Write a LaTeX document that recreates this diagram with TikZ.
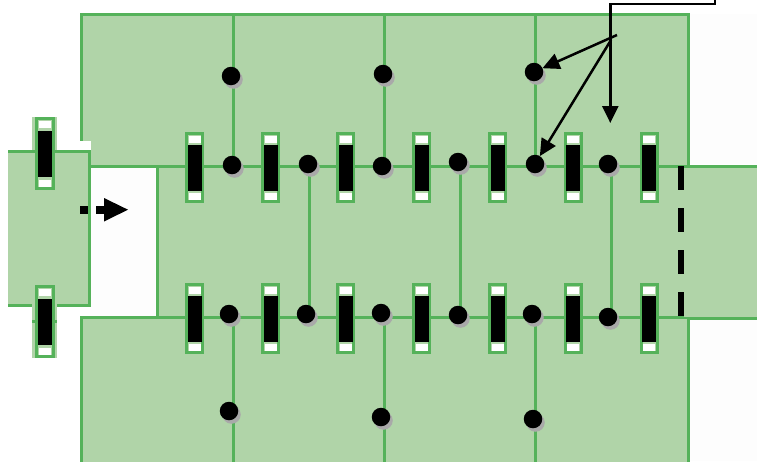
\documentclass[tikz,border=0pt]{standalone}
\usetikzlibrary{arrows.meta}
\definecolor{cellfill}{HTML}{B0D4A8}
\definecolor{cellline}{HTML}{55B25A}
\definecolor{shade}{HTML}{A9A9A9}
\definecolor{offwhite}{HTML}{FDFDFD}
\tikzset{
  cell/.style={fill=cellfill,draw=cellline,line width=3pt},
  wall/.style={draw=cellline,line width=3pt},
  dot/.style={circle,fill=black,minimum size=18.5pt,inner sep=0pt,outer sep=0pt},
  dotshadow/.style={circle,fill=shade,minimum size=18.5pt,inner sep=0pt},
  leader/.style={draw=black,line width=2.5pt,-{Triangle[length=17pt,width=16pt]}},
  plainline/.style={draw=black,line width=2.5pt},
  slotouter/.style={fill=cellfill,draw=cellline,line width=3pt},
}
% \slotmark{x}{y}{half width of the rim}{half height of the rim}
\newcommand{\slotmark}[4]{%
  \begin{scope}[shift={(#1,#2)}]
    \path[slotouter] (-#3,-#4) rectangle (#3,#4);
    \fill[white] (-6,-#4+2) rectangle (6,-#4+9);
    \fill[white] (-6,#4-2) rectangle (6,#4-9);
    \fill[black] (-7,-23) rectangle (7,23);
  \end{scope}}
\newcommand{\bigdot}[3]{%
  \node[dotshadow] at (#2+2.5,#3+3.5) {};
  \node[dot] (#1) at (#2,#3) {};}
\begin{document}
\begin{tikzpicture}[x=1pt,y=-1pt]
\useasboundingbox (0,0) rectangle (757,461);
\fill[white] (0,0) rectangle (757,461);
\fill[offwhite] (690,14) rectangle (757,164);
\fill[offwhite] (690,320) rectangle (757,461);
\fill[offwhite] (90,168) rectangle (155,316);
% cells
\path[cell] (81,14) rectangle (688,166);
\path[cell] (81,317.7) -- (81,470) -- (688,470) -- (688,317.7) -- cycle;
\path[cell] (157,166) rectangle (688,317.7);
\fill[cellfill] (684,167.5) rectangle (760,316.5);
\draw[wall] (686.5,166) -- (760,166);
\draw[wall] (686.5,318.5) -- (760,318.5);
% left notch and left cell
\fill[white] (78,141) rectangle (90.5,151);
\fill[cellfill] (8,151.5) rectangle (89,305);
\draw[wall] (8,151.7) -- (89,151.7) -- (89,305) -- (8,305);
% inner walls
\foreach \x in {233,384,535} {
  \draw[wall] (\x,14) -- (\x,166);
  \draw[wall] (\x,317.7) -- (\x,470);
}
\foreach \x in {309,460,611} \draw[wall] (\x,166) -- (\x,317.7);
% slots
\foreach \x in {194.5,270.5,345.5,421.5,497.5,573.3,649.3} {
  \slotmark{\x}{167.5}{8}{34}
  \slotmark{\x}{318.5}{8}{34}
}
% left slots on their pale surround
\fill[cellfill] (32,117) rectangle (57,190);
\fill[cellfill] (32,285) rectangle (57,358);
\draw[wall] (32,151.7) -- (57,151.7);
\draw[wall] (32,321) -- (57,321);
\slotmark{44.5}{153.5}{8.5}{35}
\slotmark{44.5}{321.5}{8.5}{35}
% dots
\bigdot{u1}{232}{165}
\bigdot{u2}{308}{164}
\bigdot{u3}{382}{166}
\bigdot{u4}{458}{162}
\bigdot{u5}{535}{164}
\bigdot{u6}{608}{164}
\bigdot{t1}{231}{76}
\bigdot{t2}{383}{74}
\bigdot{t3}{534}{72}
\bigdot{l1}{229}{314}
\bigdot{l2}{306}{314}
\bigdot{l3}{381}{313}
\bigdot{l4}{458}{315}
\bigdot{l5}{532}{314}
\bigdot{l6}{608}{317}
\bigdot{b1}{229}{411}
\bigdot{b2}{381}{417}
\bigdot{b3}{533}{419}
% dashed boundary
\coordinate (dashtop) at (680.5,166);
\coordinate (dashbot) at (680.5,316);
\draw[black,line width=6pt,dash pattern=on 23.5pt off 18.5pt] (dashtop) -- (dashbot);
% flow arrow
\fill[black] (80,206) rectangle (88,213.5);
\fill[black] (96,206) rectangle (106,213.5);
\fill[black] (104,198) -- (128,209.7) -- (104,221.5) -- cycle;
% leaders
\coordinate (hub) at (617,35);
\coordinate (stem) at (610.3,37);
\coordinate (legA) at (610.3,4);
\coordinate (legB) at (715,4);
\coordinate (legC) at (715,0);
\coordinate (endv) at (610.3,123);
\coordinate (fork) at (611,40);
\draw[plainline] (legC) -- (legB) -- (legA) -- (stem);
\draw[leader] (stem) -- (endv);
\draw[leader] (hub) -- (t3);
\draw[leader] (fork) -- (u5);
\end{tikzpicture}
\end{document}
